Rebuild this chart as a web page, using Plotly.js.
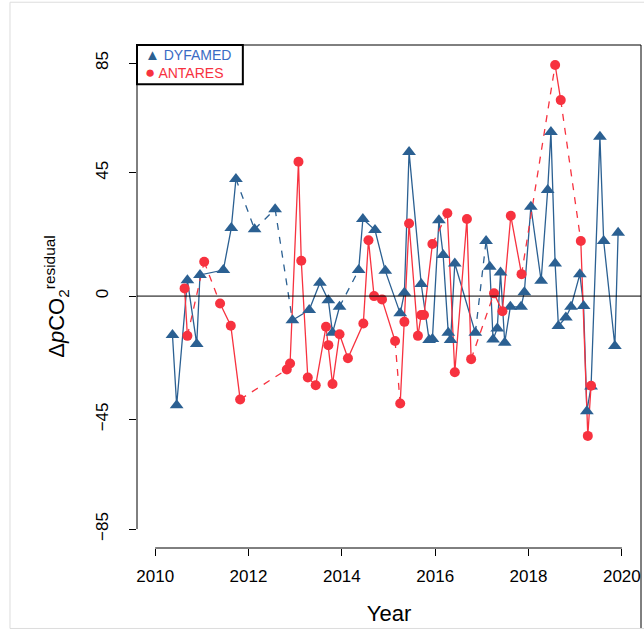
<!DOCTYPE html>
<html><head><script src="https://cdn.plot.ly/plotly-3.0.1.min.js"></script>
<style>body{margin:0;background:#fff}</style></head><body>
<div id="c" style="width:644px;height:629px"></div>
<script>
const dyfYear=[2010.37,2010.46,2010.69,2010.89,2010.96,2011.46,2011.63,2011.73,2012.13,2012.57,2012.94,2013.30,2013.53,2013.71,2013.80,2013.95,2014.36,2014.45,2014.71,2014.93,2015.25,2015.34,2015.44,2015.70,2015.87,2015.94,2016.08,2016.17,2016.28,2016.33,2016.42,2016.86,2017.09,2017.17,2017.24,2017.33,2017.40,2017.49,2017.61,2017.84,2017.91,2018.05,2018.27,2018.41,2018.48,2018.57,2018.64,2018.80,2018.91,2019.10,2019.18,2019.25,2019.34,2019.53,2019.61,2019.85,2019.92];
const dyfVal=[-14.2,-39.8,5.8,-17.5,7.7,9.5,24.8,42.7,24.4,31.7,-8.8,-5.1,4.9,-1.5,-13.4,-3.9,9.5,28.1,24.1,9.2,-6.3,1.2,52.6,4.4,-16,-15.7,27.7,15,-13.4,-16,11.9,-13.4,20.1,10.7,-15.8,-11.8,8.6,-17,-3.9,-3.9,1.4,32.6,5.6,38.7,59.9,11.9,-10.9,-7.8,-3.9,8,-3.6,-42,-33,58.1,20.1,-18.2,23.1];
const dyfGapStarts=[7,8,9,15,31];
const antYear=[2010.63,2010.69,2011.05,2011.39,2011.62,2011.82,2012.82,2012.89,2013.07,2013.13,2013.27,2013.44,2013.66,2013.71,2013.80,2013.95,2014.13,2014.46,2014.57,2014.69,2014.86,2015.14,2015.25,2015.34,2015.44,2015.63,2015.70,2015.76,2015.94,2016.26,2016.42,2016.68,2016.77,2017.26,2017.44,2017.62,2017.85,2018.57,2018.69,2019.12,2019.27,2019.34];
const antVal=[2.8,-14.5,12.5,-2.7,-10.8,-37.7,-26.8,-24.6,49,12.9,-29.7,-32.5,-11.2,-17.9,-32.1,-13.9,-22.7,-10,20.4,0,-1.2,-16.4,-39.2,-9.4,26.5,-14.5,-6.9,-6.9,19,30.2,-27.8,28.1,-23,1,-5.5,29.3,8,84.3,71.5,20.1,-51,-32.7];
const antGapStarts=[1,2,5,21,28,32,36,38];
const yTicks=[-85,-45,0,45,85];
const xTicks=[2010,2012,2014,2016,2018,2020];
const seriesNames=['DYFAMED','ANTARES'];

const BLUE='#2B6092', RED='#F7323F';
function solid(x,y,gaps){const sx=[],sy=[];for(let i=0;i<x.length;i++){sx.push(x[i]);sy.push(y[i]);if(gaps.includes(i)){sx.push(null);sy.push(null);}}return [sx,sy];}
function dashed(x,y,gaps){const sx=[],sy=[];gaps.forEach(i=>{sx.push(x[i],x[i+1],null);sy.push(y[i],y[i+1],null);});return [sx,sy];}
const [ds,dsy]=solid(dyfYear,dyfVal,dyfGapStarts),[dd,ddy]=dashed(dyfYear,dyfVal,dyfGapStarts);
const [as,asy]=solid(antYear,antVal,antGapStarts),[ad,ady]=dashed(antYear,antVal,antGapStarts);
const traces=[
{x:dd,y:ddy,mode:'lines',line:{color:BLUE,width:1.3,dash:'7px,7px'},hoverinfo:'skip'},
{x:ds,y:dsy,mode:'lines',line:{color:BLUE,width:1.3},connectgaps:false},
{x:ad,y:ady,mode:'lines',line:{color:RED,width:1.3,dash:'7px,7px'},hoverinfo:'skip'},
{x:as,y:asy,mode:'lines',line:{color:RED,width:1.3},connectgaps:false},
{x:dyfYear,y:dyfVal,mode:'markers',name:seriesNames[0],marker:{symbol:'triangle-up',size:12,color:BLUE}},
{x:antYear,y:antVal,mode:'markers',name:seriesNames[1],marker:{symbol:'circle',size:10,color:RED}}
];
const ax={showgrid:false,zeroline:false,showline:false,ticks:'outside',ticklen:7,tickwidth:1,tickcolor:'#000',tickfont:{size:17,color:'#000'},ticklabelstandoff:6};
const layout={
width:644,height:629,margin:{l:137,r:3,t:45,b:81},paper_bgcolor:'#fff',plot_bgcolor:'#fff',
font:{family:'Liberation Sans, Arial, sans-serif',color:'#000'},showlegend:false,
xaxis:Object.assign({},ax,{range:[2009.61,2020.41],tickvals:xTicks,ticktext:xTicks.map(String),title:{text:'Year',font:{size:22},standoff:20}}),
yaxis:Object.assign({},ax,{range:[-91.9,91.6],tickvals:yTicks,ticktext:yTicks.map(v=>String(v).replace('-','−')),tickangle:-90,ticklabelstandoff:14,title:{text:'Δ<i>p</i>CO<sub>2</sub><sup>residual</sup>',font:{size:22},standoff:22}}),
annotations:[
{xref:'paper',yref:'paper',x:0.012,y:0.982,xanchor:'left',yanchor:'middle',showarrow:false,text:'<span style="color:#2B6092;font-size:15px">▲</span> '+seriesNames[0],font:{size:14,color:'#3A6BC4'}},
{xref:'paper',yref:'paper',x:0.012,y:0.946,xanchor:'left',yanchor:'middle',showarrow:false,text:'<span style="color:#F7323F;font-size:17px">●</span> '+seriesNames[1],font:{size:14,color:'#F7323F'}}
],
shapes:[
{type:'rect',xref:'paper',yref:'paper',x0:0,x1:0.21,y0:1,y1:0.922,line:{color:'#000',width:2},fillcolor:'rgba(0,0,0,0)'},
{type:'line',xref:'paper',yref:'y',x0:0,x1:1,y0:0,y1:0,line:{color:'#000',width:1}},
{type:'line',xref:'x',yref:'paper',x0:2010,x1:2020,y0:0,y1:0,line:{color:'#000',width:1}},
{type:'line',xref:'paper',yref:'y',x0:0,x1:0,y0:-85,y1:85,line:{color:'#000',width:1}},
{type:'line',xref:'paper',yref:'paper',x0:0,x1:1,y0:1,y1:1,line:{color:'#000',width:1}},
{type:'line',xref:'paper',yref:'paper',x0:1,x1:1,y0:1,y1:-0.16,line:{color:'#000',width:1}},
{type:'rect',xref:'paper',yref:'paper',x0:-0.252,x1:1.01,y0:-0.16,y1:1.085,line:{color:'#ddd',width:1}}
]};
Plotly.newPlot('c',traces,layout,{displayModeBar:false});
</script></body></html>
